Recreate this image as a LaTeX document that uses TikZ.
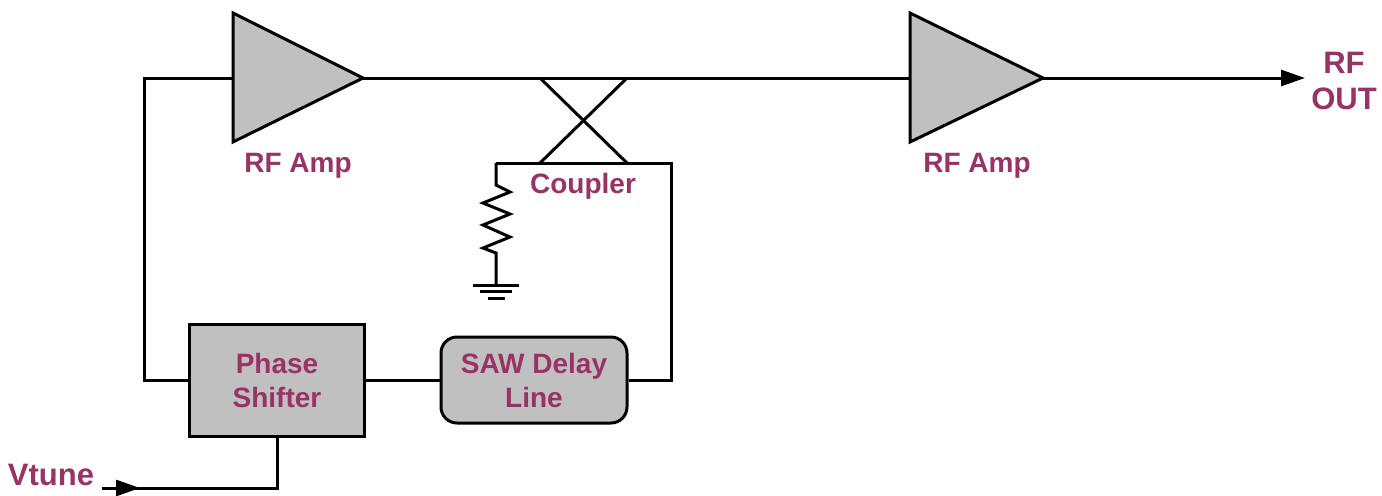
\documentclass[tikz,border=0pt]{standalone}
\usepackage{fontspec}
\setmainfont{Liberation Sans}
\usetikzlibrary{arrows.meta}
\definecolor{lblcol}{RGB}{153,51,102}
\definecolor{boxgray}{RGB}{192,192,192}
\begin{document}
\begin{tikzpicture}[x=0.5pt,y=-0.5pt,
  wire/.style={draw=black,line width=1.5pt,line join=miter},
  ampshape/.style={fill=boxgray,draw=black,line width=1.5pt,line join=miter},
  lbl/.style={text=lblcol,font=\fontsize{14}{17}\selectfont\bfseries,align=center,inner sep=0pt},
  blockbox/.style={draw=black,fill=boxgray,line width=1.5pt,inner sep=0pt,
     text=lblcol,font=\fontsize{14}{17}\selectfont\bfseries,align=center},
  tipstyle/.style={-{Triangle[length=12pt,width=8pt]}}]
\useasboundingbox (0,0) rectangle (1382,495);
% amplifiers
\coordinate (a1in) at (233,78);
\coordinate (a1out) at (363,78);
\coordinate (a2in) at (910,78);
\coordinate (a2out) at (1043,78);
\filldraw[ampshape] (233,13) -- (a1out) -- (233,142) -- cycle;
\filldraw[ampshape] (910,13) -- (a2out) -- (910,142) -- cycle;
\node[lbl,anchor=base] (amp1lbl) at (298,172) {RF Amp};
\node[lbl,anchor=base] (amp2lbl) at (977,172) {RF Amp};
% blocks
\node[blockbox,minimum width=87.5pt,minimum height=56pt] (ps) at (277,380) {Phase\\Shifter};
\node[blockbox,rounded corners=8pt,minimum width=93pt,minimum height=43pt] (saw) at (534,380) {SAW Delay\\Line};
% main line
\draw[wire] (a1out) -- (a2in);
\coordinate (rfout) at (1305,78);
\draw[wire,tipstyle] (a2out) -- (rfout);
\node[text=lblcol,font=\fontsize{15.5}{18}\selectfont\bfseries,align=center,inner sep=0pt] (rfoutlbl) at (1344,81) {RF\\OUT};
% coupler
\coordinate (c1) at (540,78);
\coordinate (c2) at (627,78);
\coordinate (c3) at (540,163);
\coordinate (c4) at (627,163);
\coordinate (cpL) at (496,163);
\coordinate (cpR) at (671,163);
\draw[wire] (c1) -- (c4);
\draw[wire] (c2) -- (c3);
\node[lbl,anchor=base] (couplbl) at (583,193) {Coupler};
% feedback
\draw[wire] (saw.east) -| (cpR) -- (cpL);
\draw[wire] (ps.east) -- (saw.west);
\draw[wire] (ps.west) -- ++(-44,0) |- (a1in);
% resistor and ground
\coordinate (gnd) at (496,285);
\draw[wire] (cpL) -- (496,185) -- (510,192) -- (483,203) -- (510,214) -- (483,225) -- (510,237) -- (483,248) -- (496,253) -- (gnd);
\draw[wire] (473,285) -- (519,285);
\draw[wire] (480,291) -- (512,291);
\draw[wire] (488,298) -- (505,298);
% Vtune
\node[text=lblcol,font=\fontsize{15.5}{18}\selectfont\bfseries,inner sep=0pt,anchor=base] (vtlbl) at (51,485) {Vtune};
\coordinate (vt) at (102,488);
\coordinate (vtmid) at (140,488);
\draw[wire] (vt) -- (277,488) -- (ps.south);
\draw[wire,tipstyle] (vt) -- (vtmid);
\end{tikzpicture}
\end{document}
